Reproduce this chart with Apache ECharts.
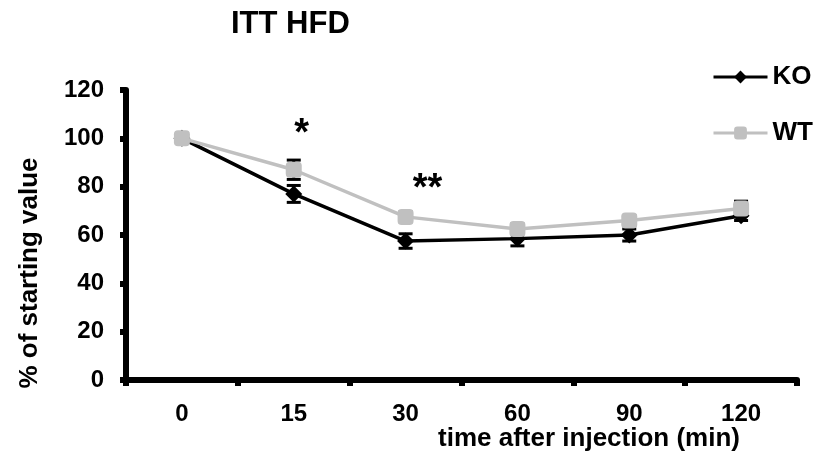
<!DOCTYPE html>
<html>
<head>
<meta charset="utf-8">
<script src="https://cdn.jsdelivr.net/npm/echarts@6/dist/echarts.min.js"></script>
<style>
  html, body { margin: 0; padding: 0; background: #fff; }
  #chart { width: 824px; height: 456px; }
</style>
</head>
<body>
<div id="chart"></div>
<script>
// ── 数据 ─────────────────────────────
const categories = ["0", "15", "30", "60", "90", "120"];
const koValues = [100, 77, 57.5, 58.5, 60, 68];
const wtValues = [100, 87, 67.5, 62.5, 66, 71];
const koErr = [0, 3.5, 3, 3, 2.5, 2];
const wtErr = [0, 4, 2, 2, 2, 3];
const yTicks = [0, 20, 40, 60, 80, 100, 120];
// 显著性标记
const sigMarks = [
  { cat: "15", y: 101.5, text: "*", dx: 8 },
  { cat: "30", y: 79, text: "**", dx: 22 },
];

const FONT = "Liberation Sans, Arial, sans-serif";
const chart = echarts.init(document.getElementById("chart"));

function errData(vals, errs) {
  return vals.map((v, i) => [i, v, errs[i]]);
}

function renderErr(params, api) {
  const i = api.value(0);
  const v = api.value(1);
  const e = api.value(2);
  if (!e) return null;
  const top = api.coord([i, v + e]);
  const bot = api.coord([i, v - e]);
  const hw = 7;
  const style = { stroke: "#000", lineWidth: 3 };
  return {
    type: "group",
    children: [
      { type: "line", shape: { x1: top[0], y1: top[1], x2: bot[0], y2: bot[1] }, style },
      { type: "line", shape: { x1: top[0] - hw, y1: top[1], x2: top[0] + hw, y2: top[1] }, style },
      { type: "line", shape: { x1: bot[0] - hw, y1: bot[1], x2: bot[0] + hw, y2: bot[1] }, style },
    ],
  };
}

chart.setOption({
  animation: false,
  backgroundColor: "#fff",
  textStyle: { fontFamily: FONT },
  title: {
    text: "ITT HFD",
    left: 226,
    top: 4,
    textStyle: { fontFamily: FONT, fontWeight: "bold", fontSize: 31, color: "#000" },
  },
  legend: {
    data: ["KO", "WT"],
    orient: "vertical",
    left: 707,
    top: 59,
    itemWidth: 54,
    itemHeight: 16,
    itemGap: 30,
    lineStyle: { width: 3 },
    textStyle: { fontFamily: FONT, fontWeight: "bold", fontSize: 26, color: "#000", lineHeight: 26, padding: [0, 0, 0, 0] },
  },
  grid: { left: 126, right: 27, top: 90, bottom: 76, containLabel: false, outerBoundsMode: "none" },
  xAxis: {
    type: "category",
    data: categories,
    boundaryGap: true,
    axisLine: { lineStyle: { color: "#000", width: 6 } },
    axisTick: { show: true, inside: false, length: 6, lineStyle: { color: "#000", width: 6 } },
    axisLabel: { fontFamily: FONT, fontWeight: "bold", fontSize: 24, color: "#000", margin: 22 },
    splitLine: { show: false },
  },
  yAxis: {
    type: "value",
    min: yTicks[0],
    max: yTicks[yTicks.length - 1],
    interval: yTicks[1] - yTicks[0],
    axisLine: { show: true, lineStyle: { color: "#000", width: 6 } },
    axisTick: { show: true, inside: false, length: 6, lineStyle: { color: "#000", width: 6 } },
    axisLabel: { fontFamily: FONT, fontWeight: "bold", fontSize: 24, color: "#000", margin: 22 },
    splitLine: { show: false },
  },
  graphic: [
    {
      type: "text",
      x: 30,
      y: 273,
      rotation: Math.PI / 2,
      style: {
        text: "% of starting value",
        fontFamily: FONT, fontWeight: "bold", fontSize: 26, fill: "#000",
        align: "center", verticalAlign: "middle",
      },
    },
    {
      type: "text",
      x: 589,
      y: 439,
      style: {
        text: "time after injection (min)",
        fontFamily: FONT, fontWeight: "bold", fontSize: 26, fill: "#000",
        align: "center", verticalAlign: "middle",
      },
    },
  ],
  series: [
    {
      type: "custom",
      name: "KO err",
      renderItem: renderErr,
      data: errData(koValues, koErr),
      z: 1,
      silent: true,
    },
    {
      type: "custom",
      name: "WT err",
      renderItem: renderErr,
      data: errData(wtValues, wtErr),
      z: 1,
      silent: true,
    },
    {
      type: "line",
      name: "KO",
      data: koValues,
      symbol: "diamond",
      symbolSize: 17,
      color: "#000",
      lineStyle: { color: "#000", width: 3.5 },
      itemStyle: { color: "#000" },
      z: 3,
    },
    {
      type: "line",
      name: "WT",
      data: wtValues,
      symbol: "roundRect",
      symbolSize: 16,
      color: "#c0c0c0",
      lineStyle: { color: "#c0c0c0", width: 3.5 },
      itemStyle: { color: "#c0c0c0" },
      z: 4,
      markPoint: {
        symbol: "circle",
        symbolSize: 0,
        silent: true,
        data: sigMarks.map((m) => ({
          coord: [m.cat, m.y],
          value: m.text,
          label: { offset: [m.dx, 0] },
        })),
        label: {
          show: true,
          position: "inside",
          formatter: (p) => p.value,
          fontFamily: FONT, fontWeight: "bold", fontSize: 38, color: "#000",
        },
      },
    },
  ],
});
</script>
</body>
</html>
